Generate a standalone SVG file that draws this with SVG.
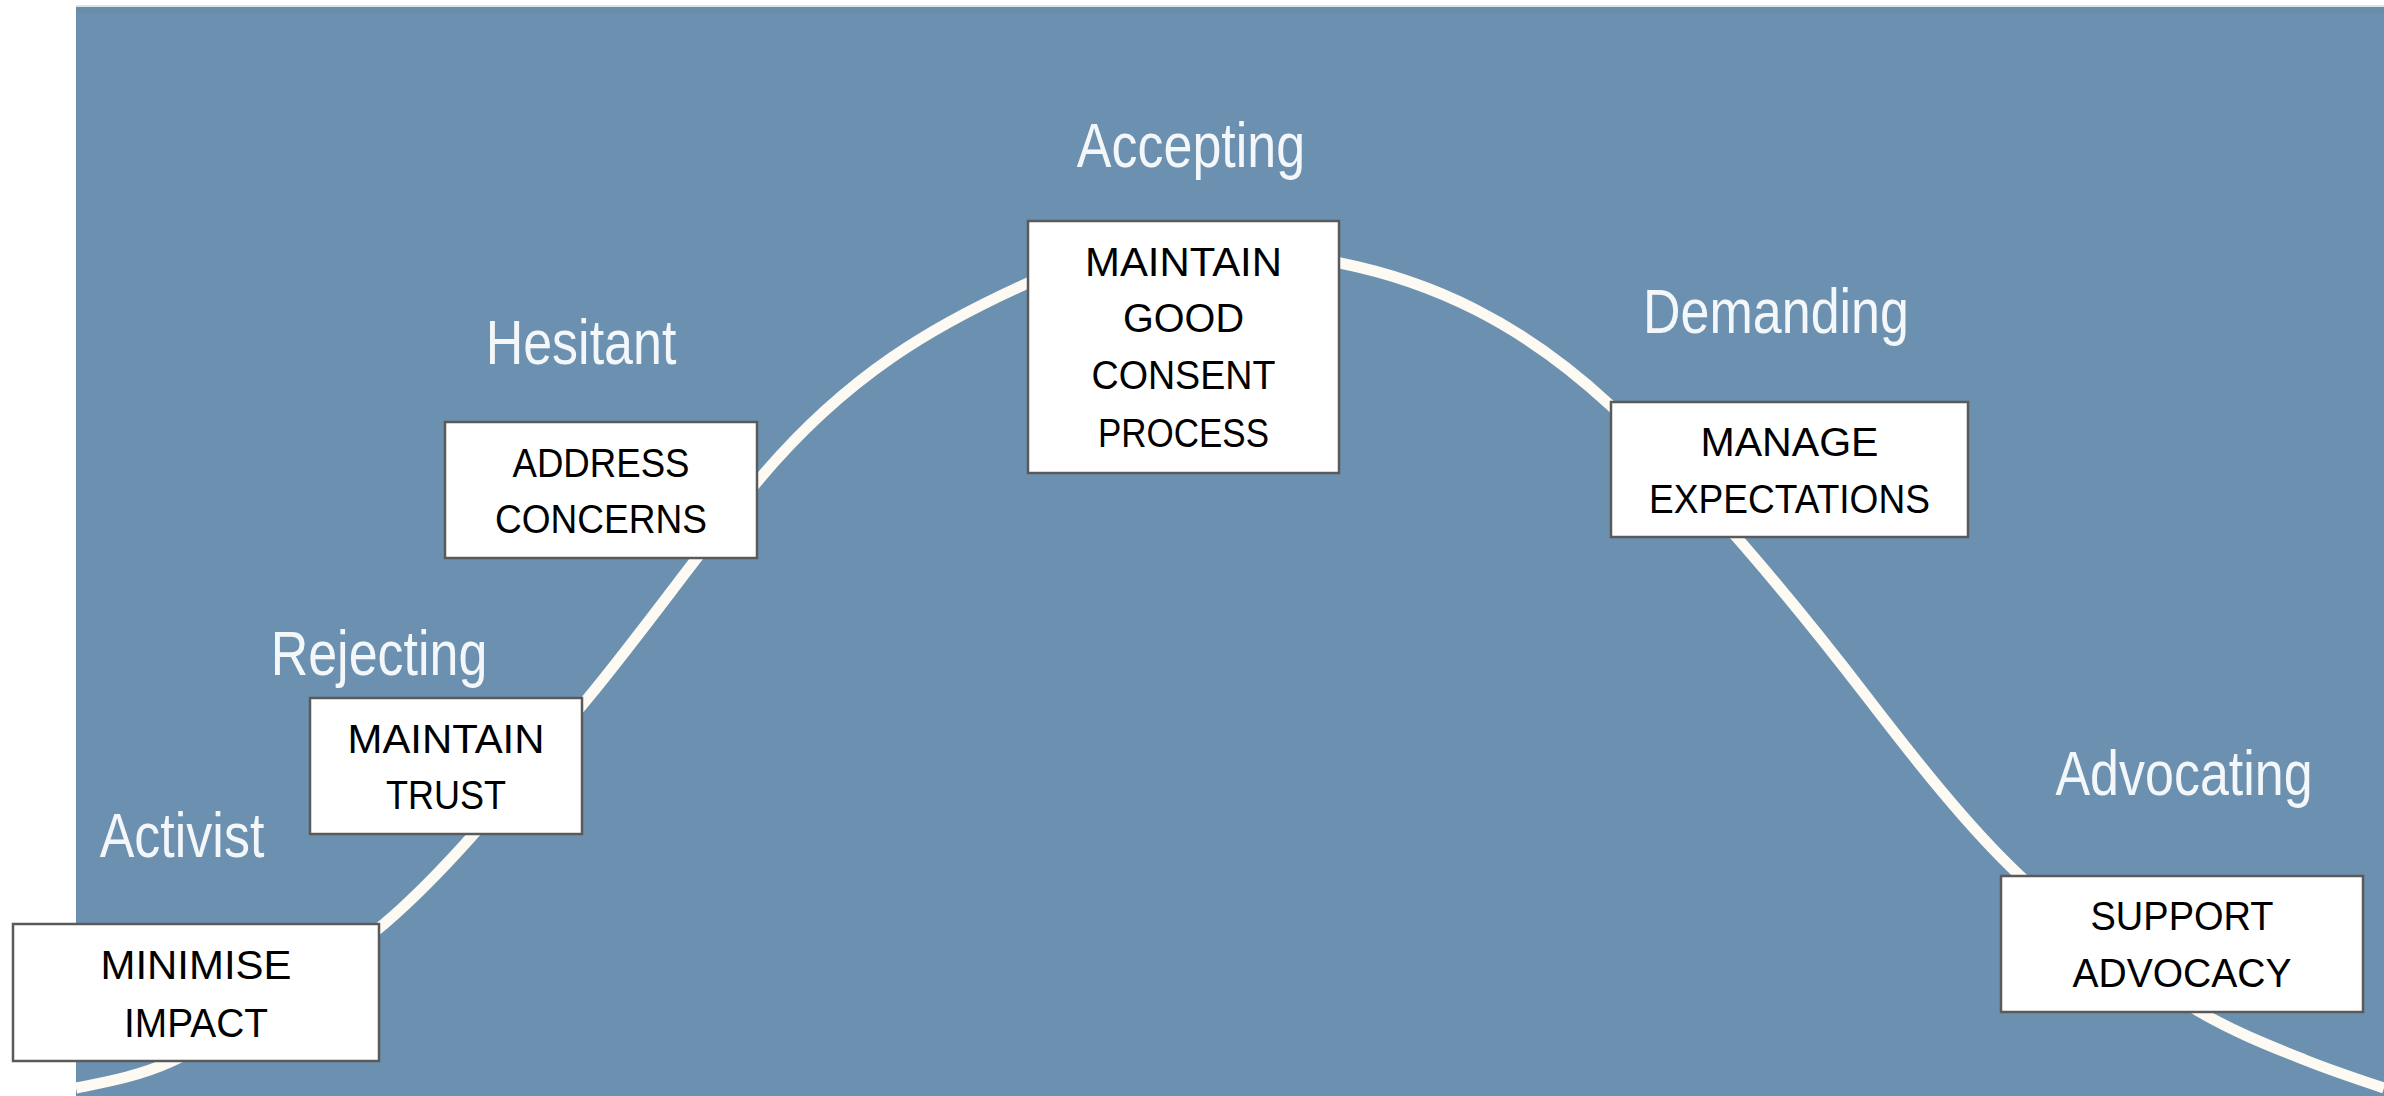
<svg xmlns="http://www.w3.org/2000/svg" width="2384" height="1096" viewBox="0 0 2384 1096">
  <style>
    .box { fill: #ffffff; stroke: #5a5a5a; stroke-width: 2.5; }
    .btxt { font-family: "Liberation Sans", Arial, sans-serif; font-size: 41px; fill: #000000; text-anchor: middle; }
    .stage { font-family: "Liberation Sans", Arial, sans-serif; font-size: 52px; fill: #f3f7fa; text-anchor: middle; }
    .curve { fill: none; stroke: #fcfaf2; stroke-width: 11; stroke-linecap: butt; stroke-linejoin: round; }
  </style>
  <rect x="0" y="0" width="2384" height="1096" fill="#ffffff"/>
  <g id="background">
    <rect x="76" y="6" width="2308" height="1090" fill="#6c91b0"/>
    <rect x="76" y="5" width="2308" height="2" fill="#d3e6ec"/>
    <rect x="76" y="7" width="2308" height="6" fill="#6a8ca8"/>
  </g>
  <g id="connectors">
    <path class="curve" d="M76,1088 C107.3,1081.7 138.7,1076.1 170,1062 C241.3,1029.9 312.7,984.6 384,924 C452,866.2 520,780.3 588,698 C644.3,629.9 700.7,549.6 757,482 C847.3,373.6 937.7,323.6 1028,283 C1132,238.3 1236,242.2 1340,263 C1430,281 1520,321.3 1610,405 C1695.7,484.7 1781.3,585.6 1867,697 C1917,762 1967,825.5 2017,873 C2078,931 2139,976.6 2200,1012 C2235,1032.3 2270,1046 2305,1060 C2331.3,1070.5 2357.7,1079.3 2384,1088"/>
  </g>
  <g id="node-activist">
    <text class="stage" transform="translate(182,857) scale(1,1.2)">Activist</text>
    <rect class="box" x="13" y="924" width="366" height="137"/>
    <text class="btxt" x="196" y="979" textLength="191" lengthAdjust="spacingAndGlyphs">MINIMISE</text>
    <text class="btxt" x="196" y="1037" textLength="144" lengthAdjust="spacingAndGlyphs">IMPACT</text>
  </g>
  <g id="node-rejecting">
    <text class="stage" transform="translate(379,675) scale(1,1.2)">Rejecting</text>
    <rect class="box" x="310" y="698" width="272" height="136"/>
    <text class="btxt" x="446" y="753" textLength="197" lengthAdjust="spacingAndGlyphs">MAINTAIN</text>
    <text class="btxt" x="446" y="809" textLength="120" lengthAdjust="spacingAndGlyphs">TRUST</text>
  </g>
  <g id="node-hesitant">
    <text class="stage" transform="translate(581,364) scale(1,1.2)">Hesitant</text>
    <rect class="box" x="445" y="422" width="312" height="136"/>
    <text class="btxt" x="601" y="477" textLength="177" lengthAdjust="spacingAndGlyphs">ADDRESS</text>
    <text class="btxt" x="601" y="533" textLength="212" lengthAdjust="spacingAndGlyphs">CONCERNS</text>
  </g>
  <g id="node-accepting">
    <text class="stage" transform="translate(1191,167) scale(1,1.2)">Accepting</text>
    <rect class="box" x="1028" y="221" width="311" height="252"/>
    <text class="btxt" x="1183.5" y="276" textLength="197" lengthAdjust="spacingAndGlyphs">MAINTAIN</text>
    <text class="btxt" x="1183.5" y="332" textLength="121" lengthAdjust="spacingAndGlyphs">GOOD</text>
    <text class="btxt" x="1183.5" y="389" textLength="184" lengthAdjust="spacingAndGlyphs">CONSENT</text>
    <text class="btxt" x="1183.5" y="447" textLength="171" lengthAdjust="spacingAndGlyphs">PROCESS</text>
  </g>
  <g id="node-demanding">
    <text class="stage" transform="translate(1776,333) scale(1,1.2)">Demanding</text>
    <rect class="box" x="1611" y="402" width="357" height="135"/>
    <text class="btxt" x="1789.5" y="456" textLength="178" lengthAdjust="spacingAndGlyphs">MANAGE</text>
    <text class="btxt" x="1789.5" y="513" textLength="281" lengthAdjust="spacingAndGlyphs">EXPECTATIONS</text>
  </g>
  <g id="node-advocating">
    <text class="stage" transform="translate(2184,795) scale(1,1.2)">Advocating</text>
    <rect class="box" x="2001" y="876" width="362" height="136"/>
    <text class="btxt" x="2182" y="930" textLength="183" lengthAdjust="spacingAndGlyphs">SUPPORT</text>
    <text class="btxt" x="2182" y="987" textLength="219" lengthAdjust="spacingAndGlyphs">ADVOCACY</text>
  </g>
</svg>
